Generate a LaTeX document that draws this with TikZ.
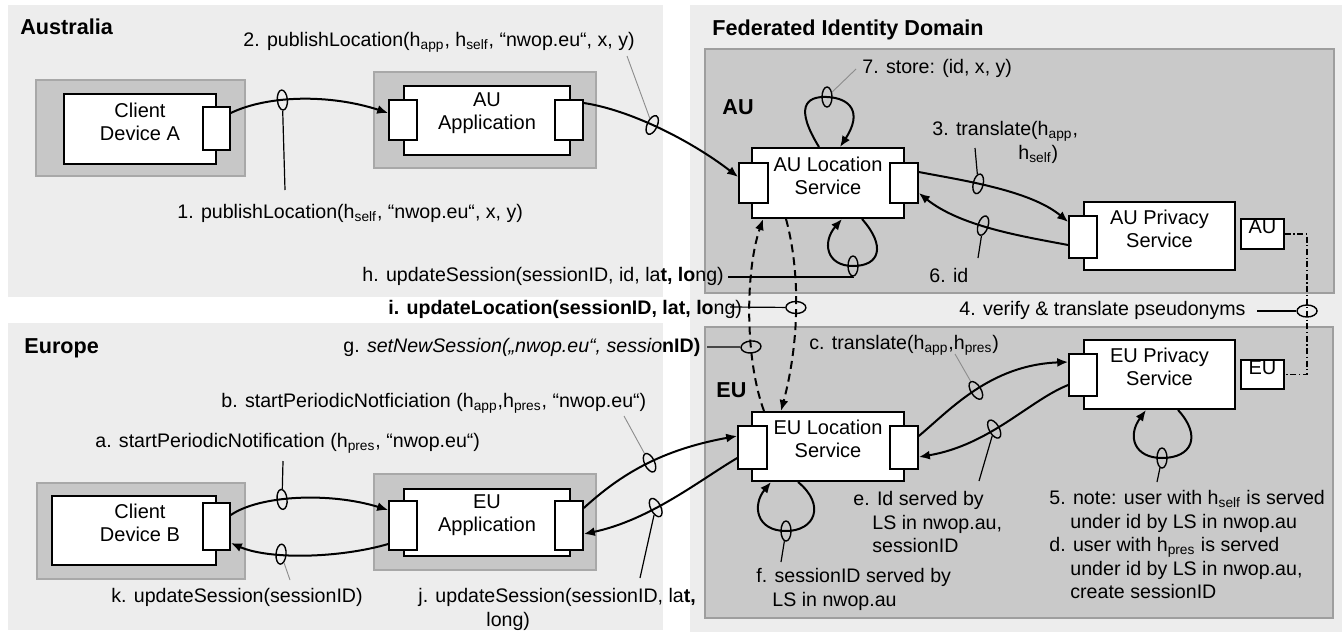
\documentclass[tikz,border=0pt]{standalone}
\usepackage{fontspec}
\setmainfont{Liberation Sans}
\usetikzlibrary{fit,shapes.geometric,arrows.meta,calc}
\definecolor{regionbg}{gray}{0.93}
\definecolor{domainbg}{gray}{0.79}
\definecolor{domainrule}{gray}{0.62}
\definecolor{hostbg}{gray}{0.78}
\definecolor{hostrule}{gray}{0.66}
\definecolor{leadgray}{gray}{0.55}

\begin{document}
\begin{tikzpicture}[x=0.5pt,y=-0.5pt,
  areabox/.style={fill=regionbg, draw=none, inner sep=0pt},
  zonebox/.style={fill=domainbg, draw=domainrule, line width=0.8pt, inner sep=0pt},
  hostbox/.style={fill=hostbg, draw=hostrule, line width=0.8pt, inner sep=0pt},
  comp/.style={fill=white, draw=black, line width=1pt, inner sep=0pt, align=center, font=\fontsize{10}{11.5}\selectfont},
  portbox/.style={fill=white, draw=black, line width=0.8pt, inner sep=0pt},
  tagbox/.style={fill=white, draw=black, line width=0.8pt, inner sep=0pt, font=\fontsize{10}{12}\selectfont},
  heading/.style={font=\fontsize{10.8}{13}\selectfont\bfseries, inner sep=0pt, anchor=west},
  msg/.style={font=\fontsize{9.8}{11.75}\selectfont, inner sep=0pt, anchor=west},
  msgblock/.style={font=\fontsize{9.8}{11.75}\selectfont, inner sep=0pt, anchor=north west, align=left},
  flow/.style={line width=1pt, -{Latex[length=5.5pt,width=4.5pt]}},
  dflow/.style={flow, dash pattern=on 4pt off 2.5pt},
  pseud/.style={line width=0.6pt, dash pattern=on 3pt off 1.3pt on 0.6pt off 1.3pt},
  cutmark/.style={ellipse, solid, draw=black, line width=0.7pt, minimum width=5pt, minimum height=10pt, inner sep=0pt},
  lead/.style={line width=0.6pt},
  glead/.style={line width=0.45pt, draw=leadgray},
]
\useasboundingbox (0,0) rectangle (1342,632);
\fill[white] (0,0) rectangle (1342,632);

% domains and regions
\node[areabox, fit={(8,5) (663,297)}] (australia) {};
\node[areabox, fit={(8,323) (663,630)}] (europe) {};
\node[areabox, fit={(690,5) (1342,632)}] (fid) {};
\node[zonebox, fit={(705,49) (1334,293)}] (audom) {};
\node[zonebox, fit={(705,327) (1333,618)}] (eudom) {};

\node[heading] (hAus) at (20,27) {Australia};
\node[heading] (hEur) at (24,348) {Europe};
\node[heading] (hFid) at (712,30) {Federated Identity Domain};
\node[heading] (hAU) at (722,107) {AU};
\node[heading] (hEU) at (716,390) {EU};

% Australia side
\node[hostbox, fit={(36,80) (245,176)}] (devAhost) {};
\node[comp, fit={(64,94) (216,164)}] (devA) {Client\\Device A};
\node[portbox, fit={(203,107) (230,150)}] (devAp) {};

\node[hostbox, fit={(374,72) (596,168)}] (auAppHost) {};
\node[comp, fit={(404,86) (570,155)}] (auApp) {AU\\Application};
\node[portbox, fit={(389,100) (417,140)}] (auAppL) {};
\node[portbox, fit={(555,100) (583,140)}] (auAppR) {};

% Europe side
\node[hostbox, fit={(37,483) (245,579)}] (devBhost) {};
\node[comp, fit={(52,496) (216,565)}] (devB) {\hspace*{6pt}Client\\\hspace*{6pt}Device B};
\node[portbox, fit={(203,503) (230,550)}] (devBp) {};

\node[hostbox, fit={(374,474) (596,570)}] (euAppHost) {};
\node[comp, fit={(404,489) (570,556)}] (euApp) {EU\\Application};
\node[portbox, fit={(389,501) (417,550)}] (euAppL) {};
\node[portbox, fit={(555,501) (583,550)}] (euAppR) {};

% federated services
\node[comp, fit={(752,148) (904,218)}] (auLS) {AU Location\\Service};
\node[portbox, fit={(739,163) (768,203)}] (auLSl) {};
\node[portbox, fit={(890,163) (918,203)}] (auLSr) {};

\node[comp, fit={(1084,202) (1235,270)}] (auPS) {AU Privacy\\Service};
\node[portbox, fit={(1069,216) (1097,258)}] (auPSp) {};
\node[tagbox, fit={(1241,219) (1284,249)}] (auTag) {AU};

\node[comp, fit={(752,412) (904,481)}] (euLS) {EU Location\\Service};
\node[portbox, fit={(738,426) (767,469)}] (euLSl) {};
\node[portbox, fit={(890,426) (918,469)}] (euLSr) {};

\node[comp, fit={(1084,340) (1235,409)}] (euPS) {EU Privacy\\Service};
\node[portbox, fit={(1069,354) (1097,396)}] (euPSp) {};
\node[tagbox, fit={(1241,360) (1284,389)}] (euTag) {EU};

% message labels
\node[msg] (l2) at (243,42) {2. publishLocation(h\textsubscript{app}, h\textsubscript{self}, “nwop.eu“, x, y)};
\node[msg] (l1) at (177,213) {1. publishLocation(h\textsubscript{self}, “nwop.eu“, x, y)};
\node[msg] (l7) at (862,68) {7. store: (id, x, y)};
\node[msgblock] (l3) at (932,121) {3. translate(h\textsubscript{app},\\\hspace*{43pt}h\textsubscript{self})};
\node[msg] (l6) at (929,275) {6. id};
\node[msg] (lh) at (362,276) {h. updateSession(sessionID, id, la\textbf{t, lo}ng)};
\node[msg] (li) at (388,309) {\textbf{i. updateLocation(sessionID, lat, lo}ng)};
\node[msg] (lg) at (343,347) {g. \textit{setNewSession(„nwop.eu“, sessio}\textbf{nID)}};
\node[msg] (l4) at (959,310) {4. verify \& translate pseudonyms};
\node[msg] (lc) at (809,345) {c. translate(h\textsubscript{app},h\textsubscript{pres})};
\node[msgblock] (le) at (853,491) {e. Id served by\\\hspace*{9.5pt}LS in nwop.au,\\\hspace*{9.5pt}sessionID};
\node[msgblock] (lf) at (756,568) {f. sessionID served by\\\hspace*{8pt}LS in nwop.au};
\node[msgblock] (l5) at (1049,490) {5. note: user with h\textsubscript{self} is served\\\hspace*{10.5pt}under id by LS in nwop.au\\d. user with h\textsubscript{pres} is served\\\hspace*{10.5pt}under id by LS in nwop.au,\\\hspace*{10.5pt}create sessionID};
\node[msg] (lb) at (221,403) {b. startPeriodicNotficiation (h\textsubscript{app},h\textsubscript{pres}, “nwop.eu“)};
\node[msg] (la) at (95,443) {a. startPeriodicNotification (h\textsubscript{pres}, “nwop.eu“)};
\node[msg] (lk) at (111,597) {k. updateSession(sessionID)};
\node[msgblock] (lj) at (418,588) {j. updateSession(sessionID, la\textbf{t,}\\\hspace*{34pt}long)};

% 1 / 2: publishing the location
\draw[flow] ([yshift=7.75pt]devAp.east) .. controls (268,95) and (330,94) .. ([yshift=3.5pt]auAppL.west)
  node[cutmark, pos=0.38, sloped] (m1) {};
\coordinate (c1) at (285,190);
\draw[lead] (c1) -- (m1);

\draw[flow] ([yshift=8.5pt]auAppR.east) .. controls (630,110) and (690,140) .. ([yshift=3pt]auLSl.west)
  node[cutmark, pos=0.45, sloped] (m2) {};
\coordinate (c2) at (627,56);
\draw[glead] (c2) -- (m2);

% 7: store
\draw[flow] ([xshift=-4.5pt]auLS.north) .. controls (795,108) and (805,96) .. (827,97) node[cutmark] (m7) {}
  .. controls (850,98) and (863,112) .. ([xshift=6pt]auLS.north);
\coordinate (c7) at (856,69);
\draw[glead] (c7) -- (m7);

% 3 / 6: translate and id
\draw[flow] ([yshift=5.5pt]auLSr.east) .. controls (960,180) and (1030,190) .. ([yshift=7.5pt]auPSp.west)
  node[cutmark, pos=0.4, sloped] (m3) {};
\coordinate (c3) at (975,148);
\draw[lead] (c3) -- (m3);

\draw[flow] ([yshift=-4pt]auPSp.west) .. controls (1020,236) and (960,226) .. ([yshift=-5pt]auLSr.east)
  node[cutmark, pos=0.55, sloped] (m6) {};
\coordinate (c6) at (978,258);
\draw[lead] (c6) -- (m6);

% h: updateSession loop
\draw[flow] ([xshift=17pt]auLS.south) .. controls (886,246) and (880,266) .. (853,266) node[cutmark] (mh) {}
  .. controls (826,266) and (822,242) .. ([xshift=7pt]auLS.south);
\coordinate (ch) at (728,277);
\draw[lead] (ch) -| (mh.south);

% g / i: between the location services
\draw[dflow] ([xshift=-32pt]euLS.north) .. controls (745,360) and (745,272) .. ([xshift=-32.5pt]auLS.south)
  node[cutmark, pos=0.35, sloped, minimum width=6pt] (mg) {};
\coordinate (cg) at (707,347);
\draw[lead] (cg) -- (mg);

\draw[dflow] ([xshift=-21pt]auLS.south) .. controls (800,270) and (800,340) .. ([xshift=-23.5pt]euLS.north)
  node[cutmark, pos=0.5, sloped, minimum width=6pt] (mi) {};
\coordinate (ci) at (730,307);
\draw[lead] (ci) -- (mi);

% 4: pseudonym link between the privacy services
\draw[pseud] (auTag.east) -| (1307,311) node[cutmark, minimum width=10pt, minimum height=6pt] (m4) {} |- (euTag.east);
\coordinate (c4) at (1257,311);
\draw[lead] (c4) -- (m4);

% c / e: EU translate and answer
\draw[flow] ([yshift=5.75pt]euLSr.east) .. controls (950,410) and (990,365) .. ([yshift=6.5pt]euPSp.west)
  node[cutmark, pos=0.5, sloped] (mc) {};
\coordinate (cc) at (955,354);
\draw[glead] (cc) -- (mc);

\draw[flow] ([yshift=-5pt]euPSp.west) .. controls (1030,400) and (990,445) .. ([yshift=-4.75pt]euLSr.east)
  node[cutmark, pos=0.58, sloped] (me) {};
\coordinate (ce) at (979,481);
\draw[lead] (ce) -- (me);

% f: sessionID loop
\draw[flow] ([xshift=-15pt]euLS.south) .. controls (826,505) and (815,531) .. (786,531) node[cutmark] (mf) {}
  .. controls (756,531) and (752,505) .. ([xshift=-28.5pt]euLS.south);
\coordinate (cf) at (781,562);
\draw[lead] (cf) -- (mf);

% 5 / d: privacy service note loop
\draw[flow] ([xshift=9.25pt]euPS.south) .. controls (1202,436) and (1192,458) .. (1162,458) node[cutmark] (m5) {}
  .. controls (1134,458) and (1127,436) .. ([xshift=-6.75pt]euPS.south);
\coordinate (c5) at (1157,482);
\draw[lead] (c5) -- (m5);

% a / k: client device B and EU application
\draw[flow] ([yshift=5.75pt]devBp.east) .. controls (260,495) and (330,492) .. ([yshift=7.75pt]euAppL.west)
  node[cutmark, pos=0.4, sloped] (ma) {};
\coordinate (ca) at (283,461);
\draw[lead] (ca) -- (ma);

\draw[flow] ([yshift=-9.25pt]euAppL.west) .. controls (340,558) and (270,560) .. ([yshift=-8.25pt]devBp.east)
  node[cutmark, pos=0.65, sloped] (mk) {};
\coordinate (ck) at (290,580);
\draw[glead] (ck) -- (mk);

% b / j: EU application and EU location service
\draw[flow] ([yshift=8.75pt]euAppR.east) .. controls (620,475) and (660,450) .. ([yshift=5.75pt]euLSl.west)
  node[cutmark, pos=0.53, sloped] (mb) {};
\coordinate (cb) at (624,416);
\draw[glead] (cb) -- (mb);

\draw[flow] ([yshift=-5.25pt]euLSl.west) .. controls (700,480) and (650,520) .. ([yshift=-4.25pt]euAppR.east)
  node[cutmark, pos=0.6, sloped] (mj) {};
\coordinate (cj) at (640,578);
\draw[lead] (cj) -- (mj);
\end{tikzpicture}
\end{document}
